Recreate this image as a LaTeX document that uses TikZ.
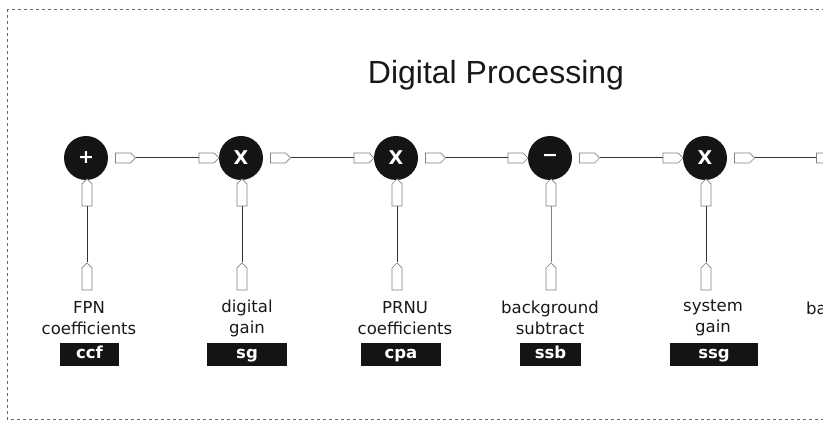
\documentclass[tikz,border=0pt]{standalone}
\usepackage{fontspec}
\setmainfont{DejaVu Sans}
\newfontfamily\titlefont{Liberation Sans}
\usetikzlibrary{shapes.symbols}
\begin{document}
\begin{tikzpicture}[x=1pt,y=1pt,
  op/.style={circle,fill=black!92,minimum size=44pt,inner sep=0pt,text=white,font=\bfseries\fontsize{19}{19}\selectfont},
  portr/.style={signal,signal to=east,signal from=nowhere,draw=black!50,fill=white,line width=0.7pt,minimum width=20pt,minimum height=10pt,inner sep=0pt},
  portu/.style={signal,signal to=north,signal from=nowhere,draw=black!50,fill=white,line width=0.7pt,minimum width=10pt,minimum height=22pt,inner sep=0pt},
  wire/.style={draw=black!80,line width=1pt},
  lab/.style={align=center,font=\fontsize{16.5}{21}\selectfont,text=black!90},
  tag/.style={fill=black!92,text=white,font=\bfseries\fontsize{16.5}{16.5}\selectfont,minimum height=23pt,inner sep=0pt,text height=12pt,text depth=3.5pt},
  frame/.style={draw=black!60,line width=0.8pt,dash pattern=on 3pt off 3pt}
]
\useasboundingbox (0,0) rectangle (823,422);
\clip (0,0) rectangle (823,422);
\draw[frame] (7,413) rectangle (840,3);
\node[font=\titlefont\fontsize{32}{32}\selectfont,text=black!90] (title) at (496,347) {Digital Processing};

% operators
\node[op] (c1) at (86,264) {+};
\node[op] (c2) at (241,264) {X};
\node[op] (c3) at (396,264) {X};
\node[op] (c4) at (550,264) {−};
\node[op] (c5) at (705,264) {X};

% output ports
\node[portr] (o1) at (123,264) {};
\node[portr] (o2) at (278,264) {};
\node[portr] (o3) at (433,264) {};
\node[portr] (o4) at (587,264) {};
\node[portr] (o5) at (742,264) {};
% input ports
\node[portr] (i2) at (206.5,264) {};
\node[portr] (i3) at (361.5,264) {};
\node[portr] (i4) at (515.5,264) {};
\node[portr] (i5) at (670.5,264) {};
\node[portr] (i6) at (824,264) {};

\draw[wire] (o1.east) -- (i2.west);
\draw[wire] (o2.east) -- (i3.west);
\draw[wire] (o3.east) -- (i4.west);
\draw[wire] (o4.east) -- (i5.west);
\draw[wire] (o5.east) -- (i6.west);

% vertical inputs
\foreach \n/\x in {1/87,2/242,3/397,4/551,5/706}{
  \node[portu] (u\n) at (\x,227) {};
  \node[portu] (l\n) at (\x,143) {};
}
\draw[wire] (u1.south) -- (l1.north);
\draw[wire] (u2.south) -- (l2.north);
\draw[wire] (u3.south) -- (l3.north);
\draw[wire,draw=black!50] (u4.south) -- (l4.north);
\draw[wire] (u5.south) -- (l5.north);

% labels
\node[lab] (t1) at (89,104) {FPN\\coefficients};
\node[lab] (t2) at (247,104) {digital\\gain};
\node[lab] (t3) at (405,104) {PRNU\\coefficients};
\node[lab] (t4) at (550,104) {background\\subtract};
\node[lab] (t5) at (713,104) {system\\gain};
\node[lab,anchor=west,inner sep=0pt] (t6) at (806,114) {ba};

% tags
\node[tag,minimum width=59pt] (g1) at (89.5,67.5) {ccf};
\node[tag,minimum width=80pt] (g2) at (247,67.5) {sg};
\node[tag,minimum width=80pt] (g3) at (401,67.5) {cpa};
\node[tag,minimum width=61pt] (g4) at (550.5,67.5) {ssb};
\node[tag,minimum width=88pt] (g5) at (714,67.5) {ssg};
\end{tikzpicture}
\end{document}
